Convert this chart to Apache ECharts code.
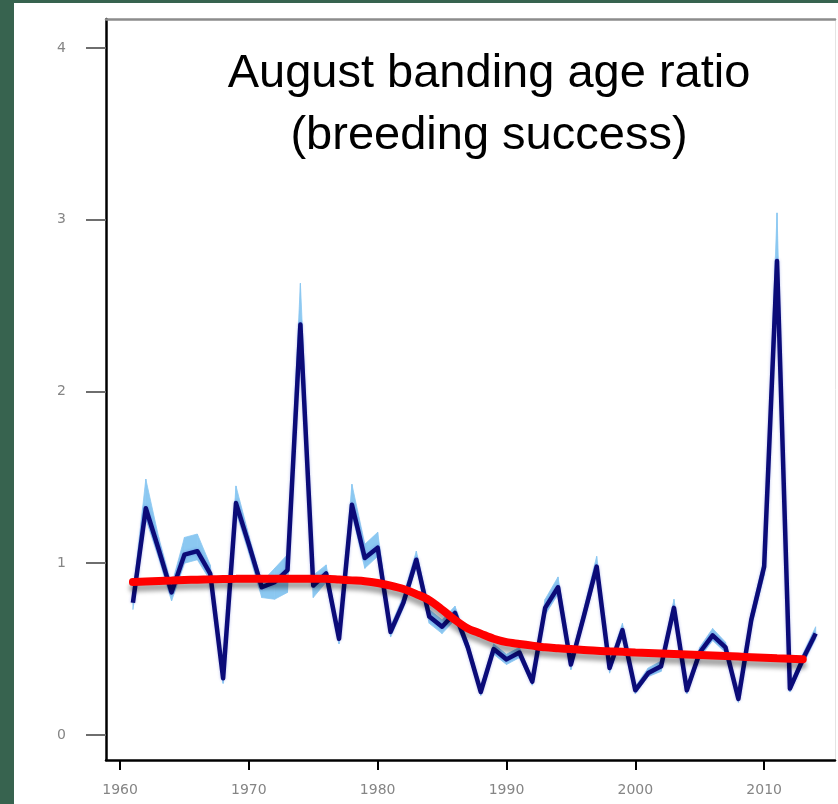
<!DOCTYPE html>
<html>
<head>
<meta charset="utf-8">
<title>August banding age ratio</title>
<script src="https://cdn.jsdelivr.net/npm/echarts@6/dist/echarts.min.js"></script>
<style>
  html, body { margin: 0; padding: 0; background: #37634f; }
  #chart { width: 838px; height: 804px; }
</style>
</head>
<body>
<div id="chart"></div>
<script>
// Annual August age ratio (young per adult) with confidence band and fitted trend
const years = [
  1961, 1962, 1963, 1964, 1965, 1966, 1967, 1968, 1969, 1970,
  1971, 1972, 1973, 1974, 1975, 1976, 1977, 1978, 1979, 1980,
  1981, 1982, 1983, 1984, 1985, 1986, 1987, 1988, 1989, 1990,
  1991, 1992, 1993, 1994, 1995, 1996, 1997, 1998, 1999, 2000,
  2001, 2002, 2003, 2004, 2005, 2006, 2007, 2008, 2009, 2010,
  2011, 2012, 2013, 2014
];
const ageRatio = [
  0.77, 1.32, 1.08, 0.83, 1.05, 1.07, 0.94, 0.33, 1.35, 1.11,
  0.86, 0.89, 0.96, 2.39, 0.87, 0.94, 0.56, 1.34, 1.03, 1.09,
  0.60, 0.77, 1.02, 0.69, 0.63, 0.71, 0.51, 0.25, 0.50, 0.44,
  0.48, 0.31, 0.74, 0.86, 0.41, 0.69, 0.98, 0.39, 0.61, 0.26,
  0.36, 0.40, 0.74, 0.26, 0.48, 0.58, 0.51, 0.21, 0.67, 0.98,
  2.76, 0.27, 0.44, 0.59
];
const ciLower = [
  0.73, 1.26, 1.03, 0.78, 1.00, 1.02, 0.90, 0.30, 1.30, 1.06,
  0.80, 0.79, 0.83, 2.31, 0.80, 0.89, 0.53, 1.29, 0.97, 1.04,
  0.57, 0.74, 0.98, 0.65, 0.59, 0.67, 0.48, 0.23, 0.47, 0.41,
  0.45, 0.29, 0.70, 0.82, 0.38, 0.66, 0.94, 0.36, 0.58, 0.24,
  0.34, 0.37, 0.70, 0.24, 0.45, 0.55, 0.48, 0.19, 0.63, 0.93,
  2.56, 0.25, 0.41, 0.56
];
const ciUpper = [
  0.81, 1.49, 1.15, 0.87, 1.15, 1.17, 0.99, 0.36, 1.45, 1.16,
  0.89, 0.97, 1.05, 2.63, 0.93, 0.99, 0.59, 1.46, 1.11, 1.18,
  0.63, 0.81, 1.07, 0.73, 0.67, 0.75, 0.54, 0.28, 0.53, 0.47,
  0.51, 0.33, 0.79, 0.92, 0.44, 0.73, 1.04, 0.42, 0.65, 0.28,
  0.39, 0.43, 0.79, 0.28, 0.51, 0.62, 0.54, 0.23, 0.71, 1.03,
  3.04, 0.29, 0.47, 0.63
];
const trendYears = [
  1961, 1962, 1963, 1964, 1965, 1966, 1967, 1968, 1969, 1970,
  1971, 1972, 1973, 1974, 1975, 1976, 1977, 1978, 1979, 1980,
  1981, 1982, 1983, 1984, 1985, 1986, 1987, 1988, 1989, 1990,
  1991, 1992, 1993, 1994, 1995, 1996, 1997, 1998, 1999, 2000,
  2001, 2002, 2003, 2004, 2005, 2006, 2007, 2008, 2009, 2010,
  2011, 2012, 2013
];
const trend = [
  0.89, 0.893, 0.896, 0.899, 0.902, 0.904, 0.906, 0.908, 0.909, 0.91,
  0.91, 0.91, 0.91, 0.91, 0.91, 0.91, 0.905, 0.90, 0.895, 0.885,
  0.87, 0.85, 0.82, 0.785, 0.73, 0.67, 0.62, 0.59, 0.56, 0.54,
  0.53, 0.52, 0.51, 0.505, 0.50, 0.495, 0.49, 0.487, 0.484, 0.48,
  0.477, 0.474, 0.471, 0.468, 0.465, 0.462, 0.459, 0.456, 0.453, 0.45,
  0.447, 0.444, 0.44
];
const xTicks = [1960, 1970, 1980, 1990, 2000, 2010];
const yTicks = [0, 1, 2, 3, 4];
const titleLines = ['August banding age ratio', '(breeding success)'];

const X_MIN = 1958.91, X_MAX = 2015.5;
const Y_MIN = -0.146, Y_MAX = 4.169;

const pair = (xs, ys) => xs.map((x, i) => [x, ys[i]]);

// One band segment per pair of consecutive years: [x0, lo0, hi0, x1, lo1, hi1]
const bandSegments = years.slice(0, -1).map((x, i) => [
  x, ciLower[i], ciUpper[i], years[i + 1], ciLower[i + 1], ciUpper[i + 1]
]);

const BAND_COLOR = '#8bc8f1';

function renderBand(params, api) {
  const a = api.coord([api.value(0), api.value(1)]);
  const b = api.coord([api.value(0), api.value(2)]);
  const c = api.coord([api.value(3), api.value(5)]);
  const d = api.coord([api.value(3), api.value(4)]);
  return {
    type: 'polygon',
    shape: { points: [a, b, c, d] },
    style: { fill: BAND_COLOR, stroke: BAND_COLOR, lineWidth: 0.8 },
    silent: true
  };
}

const tickLabel = {
  formatter: (v) => String(v),
  color: '#858585',
  fontSize: 14,
  fontFamily: 'DejaVu Sans, sans-serif'
};

const chart = echarts.init(document.getElementById('chart'), null, { renderer: 'canvas' });

chart.setOption({
  backgroundColor: '#37634f',
  animation: false,
  graphic: [{
    type: 'rect',
    z: -10,
    shape: { x: 14, y: 3, width: 830, height: 810 },
    style: { fill: '#ffffff' },
    silent: true
  }],
  title: {
    text: titleLines.join('\n'),
    left: 484,
    top: 38,
    textAlign: 'center',
    textStyle: {
      fontFamily: 'Liberation Sans, Arial, sans-serif',
      fontWeight: 'normal',
      fontSize: 47,
      lineHeight: 62,
      color: '#000000'
    }
  },
  grid: { left: 106, right: 3, top: 19, bottom: 44, show: false },
  xAxis: [
    {
      type: 'value',
      min: X_MIN,
      max: X_MAX,
      splitLine: { show: false },
      axisLine: { show: true, onZero: false, lineStyle: { color: '#000', width: 2.5 } },
      axisTick: { show: true, customValues: xTicks, length: 10, lineStyle: { color: '#000', width: 2 } },
      axisLabel: Object.assign({ customValues: xTicks, margin: 23 }, tickLabel)
    },
    {
      // plain frame edge along the top
      type: 'value',
      position: 'top',
      min: X_MIN,
      max: X_MAX,
      splitLine: { show: false },
      axisLine: { show: true, onZero: false, lineStyle: { color: '#8c8c8c', width: 2.5 } },
      axisTick: { show: false },
      axisLabel: { show: false }
    }
  ],
  yAxis: [
    {
      type: 'value',
      min: Y_MIN,
      max: Y_MAX,
      splitLine: { show: false },
      axisLine: { show: true, onZero: false, lineStyle: { color: '#000', width: 2.5 } },
      axisTick: { show: true, customValues: yTicks, length: 20, lineStyle: { color: '#6e6e6e', width: 2 } },
      axisLabel: Object.assign({ customValues: yTicks, margin: 40 }, tickLabel)
    },
    {
      // faint frame edge on the right
      type: 'value',
      position: 'right',
      min: Y_MIN,
      max: Y_MAX,
      splitLine: { show: false },
      axisLine: { show: true, onZero: false, lineStyle: { color: '#e4e4e4', width: 1 } },
      axisTick: { show: false },
      axisLabel: { show: false }
    }
  ],
  series: [
    {
      name: 'CI band',
      type: 'custom',
      renderItem: renderBand,
      data: bandSegments,
      encode: { x: [0, 3], y: [1, 2, 4, 5] },
      silent: true,
      z: 1
    },
    {
      name: 'Age ratio',
      type: 'line',
      data: pair(years, ageRatio),
      symbol: 'none',
      lineStyle: { color: '#0b0b78', width: 4.5, join: 'round', shadowColor: 'rgba(40,60,200,0.35)', shadowBlur: 3 },
      z: 3
    },
    {
      name: 'Trend',
      type: 'line',
      data: pair(trendYears, trend),
      symbol: 'none',
      smooth: 0.3,
      lineStyle: {
        color: '#ff0000', width: 8, cap: 'round',
        shadowColor: 'rgba(0,0,0,0.35)', shadowBlur: 4, shadowOffsetY: 6
      },
      z: 4
    }
  ]
});
</script>
</body>
</html>
